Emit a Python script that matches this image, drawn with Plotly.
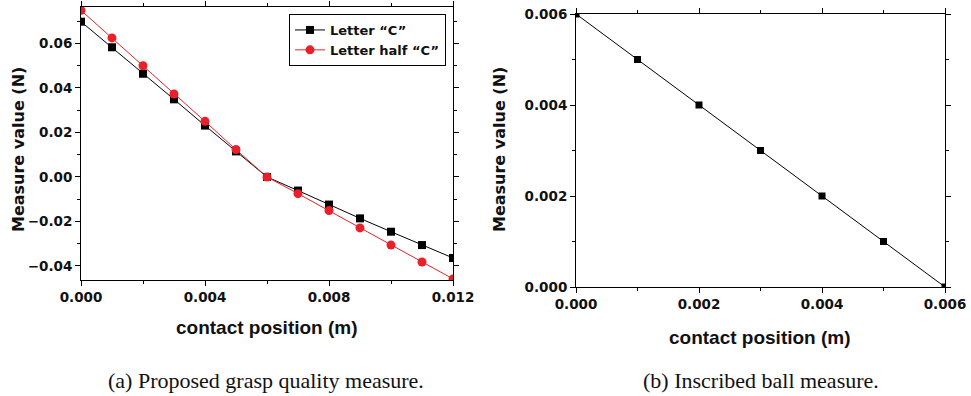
import plotly.graph_objects as go

# ---- data ----
x_a = [0.000, 0.001, 0.002, 0.003, 0.004, 0.005, 0.006, 0.007, 0.008, 0.009, 0.010, 0.011, 0.012]
letter_c = [0.0698, 0.0583, 0.0464, 0.0349, 0.0231, 0.0115, 0.0, -0.0061, -0.0124, -0.0186, -0.0246, -0.0306, -0.0364]
letter_half_c = [0.0749, 0.0625, 0.0500, 0.0373, 0.0250, 0.0123, 0.0, -0.0075, -0.0151, -0.0229, -0.0306, -0.0382, -0.0458]

x_b = [0.000, 0.001, 0.002, 0.003, 0.004, 0.005, 0.006]
inscribed = [0.006, 0.005, 0.004, 0.003, 0.002, 0.001, 0.000]

names = ['Letter \u201cC\u201d', 'Letter half \u201cC\u201d']
x_title = "contact position (m)"
y_title = "Measure value (N)"
captions = ["(a) Proposed grasp quality measure.", "(b) Inscribed ball measure."]

W, H = 971, 396
wide = "DejaVu Sans"
ink = "#111"

fig = go.Figure()
fig.add_trace(go.Scatter(x=x_a, y=letter_c, name=names[0], mode="lines+markers",
                         line=dict(color="black", width=1),
                         marker=dict(symbol="square", size=8, color="black"),
                         xaxis="x", yaxis="y"))
fig.add_trace(go.Scatter(x=x_a, y=letter_half_c, name=names[1], mode="lines+markers",
                         line=dict(color="#e8202a", width=1),
                         marker=dict(symbol="circle", size=9, color="#e8202a"),
                         xaxis="x", yaxis="y"))
fig.add_trace(go.Scatter(x=x_b, y=inscribed, mode="lines+markers", showlegend=False,
                         line=dict(color="black", width=1),
                         marker=dict(symbol="square", size=7, color="black"),
                         xaxis="x2", yaxis="y2"))

def ax(**kw):
    d = dict(showgrid=False, zeroline=False, showline=True, linecolor="black", linewidth=1,
             mirror="allticks", ticks="outside", ticklen=5, tickcolor="black", automargin=False,
             tickfont=dict(family=wide, size=13.5, color=ink, weight="bold"))
    d.update(kw)
    return d

fig.update_layout(
    width=W, height=H, margin=dict(l=0, r=0, t=0, b=0),
    paper_bgcolor="white", plot_bgcolor="white",
    xaxis=ax(domain=[81/W, 453/W], range=[0, 0.012], dtick=0.004, tickformat=".3f",
             anchor="y", minor=dict(dtick=0.002, ticks="outside", ticklen=3, tickcolor="black")),
    yaxis=ax(domain=[1-280/H, 1-7/H], range=[-0.0463, 0.0764], dtick=0.02, tick0=0, tickformat=".2f",
             anchor="x", minor=dict(dtick=0.01, ticks="outside", ticklen=3, tickcolor="black")),
    xaxis2=ax(domain=[576/W, 945/W], range=[0, 0.006], dtick=0.002, tickformat=".3f",
              anchor="y2", minor=dict(dtick=0.001, ticks="outside", ticklen=3, tickcolor="black")),
    yaxis2=ax(domain=[1-287/H, 1-14/H], range=[0, 0.006], dtick=0.002, tickformat=".3f",
              anchor="x2", minor=dict(dtick=0.001, ticks="outside", ticklen=3, tickcolor="black")),
    legend=dict(x=289/W, y=1-14/H, xanchor="left", yanchor="top",
                bgcolor="white", bordercolor="black", borderwidth=1,
                font=dict(family=wide, size=13, color=ink, weight="bold"), tracegroupgap=0),
    showlegend=True,
)

ann = [
    dict(x=267/W, y=1-327/H, text=x_title, font=dict(family="Liberation Sans", size=19, color=ink, weight="bold")),
    dict(x=760/W, y=1-337/H, text=x_title, font=dict(family="Liberation Sans", size=19, color=ink, weight="bold")),
    dict(x=18/W, y=1-150/H, text=y_title, textangle=-90, font=dict(family=wide, size=16, color=ink, weight="bold")),
    dict(x=499/W, y=1-150/H, text=y_title, textangle=-90, font=dict(family=wide, size=16, color=ink, weight="bold")),
    dict(x=266/W, y=1-380/H, text=captions[0], font=dict(family="Liberation Serif", size=22, color=ink)),
    dict(x=761/W, y=1-380/H, text=captions[1], font=dict(family="Liberation Serif", size=22, color=ink)),
]
for a in ann:
    a.update(xref="paper", yref="paper", showarrow=False, xanchor="center", yanchor="middle")
fig.update_layout(annotations=ann)

fig.write_html("out.html", config={"displayModeBar": False},
               post_script="document.body.style.margin='0';document.body.style.overflow='hidden';")
